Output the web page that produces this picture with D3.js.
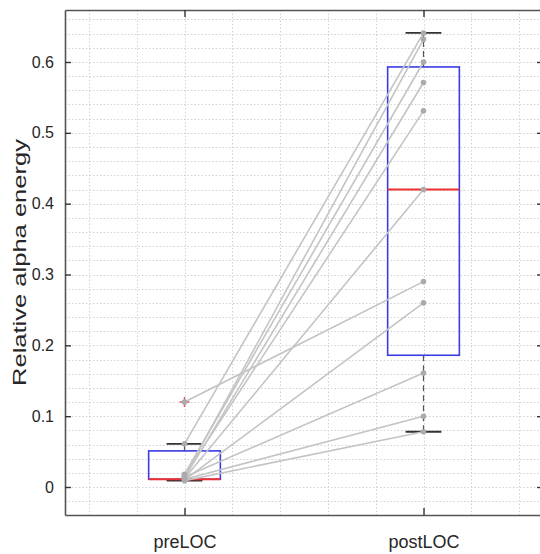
<!DOCTYPE html>
<html>
<head>
<meta charset="utf-8">
<script src="https://cdn.jsdelivr.net/npm/d3@7/dist/d3.min.js"></script>
<style>
  html, body { margin: 0; padding: 0; background: #fff; }
  svg { display: block; font-family: "Liberation Sans", Arial, Helvetica, sans-serif; }
</style>
</head>
<body>
<svg id="chart" width="540" height="554"></svg>
<script>
// ---- data ----
const categories = ["preLOC", "postLOC"];
const preValues  = [0.12, 0.061, 0.015, 0.018, 0.013, 0.016, 0.012, 0.010, 0.014, 0.011, 0.009];
const postValues = [0.29, 0.641, 0.632, 0.600, 0.571, 0.531, 0.420, 0.260, 0.161, 0.100, 0.078];
// box statistics per category
const boxLow    = [0.009, 0.078];
const boxQ1     = [0.011, 0.186];
const boxMedian = [0.011, 0.420];
const boxQ3     = [0.051, 0.593];
const boxHigh   = [0.061, 0.641];
const outlierCat = [0];
const outlierVal = [0.12];
const yTicks = [0, 0.1, 0.2, 0.3, 0.4, 0.5, 0.6];
const yTickLabels = ["0", "0.1", "0.2", "0.3", "0.4", "0.5", "0.6"];
const yLabel = "Relative alpha energy";

(function () {
// ---- layout ----
const mL = 65, mR = 543, mT = 10, mB = 515;
const svg = d3.select("#chart");

const x = d3.scaleLinear().domain([0.5, 2.5]).range([mL, mR]);
const y = d3.scaleLinear().domain([-0.0395, 0.6734]).range([mB, mT]);

// grid (major + minor, dotted)
const hGrid = d3.range(-2, 34).map(i => i * 0.02);
const vGrid = d3.range(3, 13).map(i => i * 0.2);
const grid = svg.append("g").attr("stroke", "#d2d2d2").attr("stroke-width", 1)
  .attr("stroke-dasharray", "1.5,2");
grid.selectAll("line.h").data(hGrid).join("line").attr("class", "h")
  .attr("x1", mL).attr("x2", mR)
  .attr("y1", d => Math.round(y(d)) + 0.5).attr("y2", d => Math.round(y(d)) + 0.5);
grid.selectAll("line.v").data(vGrid).join("line").attr("class", "v")
  .attr("y1", mT).attr("y2", mB)
  .attr("x1", d => Math.round(x(d)) + 0.5).attr("x2", d => Math.round(x(d)) + 0.5);

// ---- box plots ----
const boxHalf = 0.15, capHalf = 0.075;
const boxes = svg.append("g");
categories.forEach((c, i) => {
  const cx = i + 1;
  boxes.append("line").attr("x1", x(cx)).attr("x2", x(cx))
    .attr("y1", y(boxQ3[i])).attr("y2", y(boxHigh[i]))
    .attr("stroke", "#555").attr("stroke-width", 1.2).attr("stroke-dasharray", "6,4");
  boxes.append("line").attr("x1", x(cx)).attr("x2", x(cx))
    .attr("y1", y(boxQ1[i])).attr("y2", y(boxLow[i]))
    .attr("stroke", "#555").attr("stroke-width", 1.2).attr("stroke-dasharray", "6,4");
  [boxLow[i], boxHigh[i]].forEach(v => {
    boxes.append("line").attr("x1", x(cx - capHalf)).attr("x2", x(cx + capHalf))
      .attr("y1", y(v)).attr("y2", y(v))
      .attr("stroke", "#333").attr("stroke-width", 1.8);
  });
  boxes.append("rect").attr("x", x(cx - boxHalf)).attr("width", x(cx + boxHalf) - x(cx - boxHalf))
    .attr("y", y(boxQ3[i])).attr("height", y(boxQ1[i]) - y(boxQ3[i]))
    .attr("fill", "none").attr("stroke", "#3a3ae6").attr("stroke-width", 1.6);
  boxes.append("line").attr("x1", x(cx - boxHalf)).attr("x2", x(cx + boxHalf))
    .attr("y1", y(boxMedian[i])).attr("y2", y(boxMedian[i]))
    .attr("stroke", "#ee3030").attr("stroke-width", 1.8);
});
outlierVal.forEach((v, k) => {
  const px = x(outlierCat[k] + 1), py = y(v);
  boxes.append("path").attr("d", `M${px - 5},${py}H${px + 5}M${px},${py - 5}V${py + 5}`)
    .attr("stroke", "#e05a5a").attr("stroke-width", 1.4);
});

// ---- paired lines & points ----
const pairs = preValues.map((p, i) => ({ pre: p, post: postValues[i] }));
const pl = svg.append("g");
pl.selectAll("line").data(pairs).join("line")
  .attr("x1", x(1)).attr("y1", d => y(d.pre))
  .attr("x2", x(2)).attr("y2", d => y(d.post))
  .attr("stroke", "#c4c4c4").attr("stroke-width", 1.6);
pl.selectAll("circle.pre").data(preValues).join("circle").attr("class", "pre")
  .attr("cx", x(1)).attr("cy", d => y(d)).attr("r", 2.8).attr("fill", "#ababab");
pl.selectAll("circle.post").data(postValues).join("circle").attr("class", "post")
  .attr("cx", x(2)).attr("cy", d => y(d)).attr("r", 2.8).attr("fill", "#ababab");

// ---- axes ----
const axisColor = "#555";
function styleAxis(g) {
  g.select(".domain").attr("stroke", axisColor).attr("stroke-width", 1.6);
  g.selectAll(".tick line").attr("stroke", "#333").attr("stroke-width", 1.4);
  g.selectAll("text").attr("fill", "#262626").attr("font-family", "Liberation Sans, Arial, sans-serif");
}
svg.append("g").attr("transform", `translate(${mL},0)`)
  .call(d3.axisLeft(y).tickValues(yTicks).tickFormat((d, i) => yTickLabels[i])
    .tickSizeInner(-6).tickSizeOuter(0).tickPadding(11))
  .call(styleAxis).call(g => g.selectAll("text").attr("font-size", 16));
svg.append("g").attr("transform", `translate(${mR},0)`)
  .call(d3.axisRight(y).tickValues(yTicks).tickFormat("")
    .tickSizeInner(-6).tickSizeOuter(0))
  .call(styleAxis);
svg.append("g").attr("transform", `translate(0,${mT})`)
  .call(d3.axisTop(x).tickValues([1, 2]).tickFormat("")
    .tickSizeInner(-7).tickSizeOuter(0))
  .call(styleAxis);
svg.append("g").attr("transform", `translate(0,${mB})`)
  .call(d3.axisBottom(x).tickValues([1, 2]).tickFormat((d, i) => categories[i])
    .tickSizeInner(-7).tickSizeOuter(0).tickPadding(20))
  .call(styleAxis).call(g => g.selectAll("text").attr("font-size", 18));

svg.append("text")
  .attr("transform", `translate(26,${(mT + mB) / 2}) rotate(-90)`)
  .attr("text-anchor", "middle")
  .attr("font-size", 18)
  .attr("textLength", 247).attr("lengthAdjust", "spacingAndGlyphs")
  .attr("fill", "#262626")
  .text(yLabel);
})();
</script>
</body>
</html>
